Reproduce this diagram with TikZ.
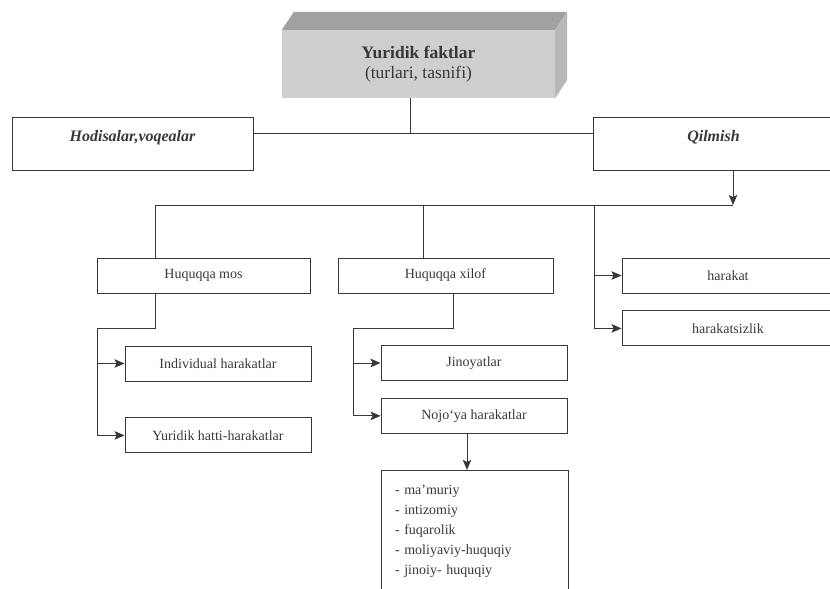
\documentclass[tikz,border=0pt]{standalone}
\usepackage{fontspec}
\setmainfont{Liberation Serif}
\usetikzlibrary{arrows.meta, positioning}
\definecolor{inkgray}{gray}{0.22}
\definecolor{facefront}{gray}{0.81}
\definecolor{facetop}{gray}{0.63}
\definecolor{faceside}{gray}{0.72}

\begin{document}
\begin{tikzpicture}[x=1pt, y=-1pt,
  every node/.style={font=\fontsize{14}{17}\selectfont, text=inkgray},
  box/.style={draw=inkgray, line width=0.9pt, minimum height=35pt, inner sep=0pt},
  head/.style={font=\fontsize{16}{18}\selectfont\bfseries\itshape, minimum width=241pt, minimum height=53pt, text height=24pt, text depth=29pt},
  link/.style={draw=inkgray, line width=1pt},
  arr/.style={link, -{Stealth[length=10pt,width=8.5pt,inset=2pt]}}]
\useasboundingbox (0,0) rectangle (830,589);
% Top block
\node[fill=facefront, minimum width=273pt, minimum height=68pt, inner sep=0pt, align=center, font=\fontsize{17.5}{20}\selectfont] (Top) at (418.5,64) {\textbf{Yuridik faktlar}\\(turlari, tasnifi)};
\fill[facetop] (Top.north west) -- ++(12,-18) -- ([shift={(12,-18)}]Top.north east) -- (Top.north east) -- cycle;
\fill[faceside] (Top.north east) -- ++(12,-18) -- ++(0,68) -- (Top.south east) -- cycle;
% First level
\node[box, head] (Hod) at (132.5,143.5) {Hodisalar,voqealar};
\node[box, head] (Qil) at (713.5,143.5) {Qilmish};
% Second level
\node[box, minimum width=213pt] (Mos) at (203.5,275.5) {Huquqqa mos};
\node[box, minimum width=215pt] (Xil) at (445.5,275.5) {Huquqqa xilof};
\node[box, minimum width=212pt] (Har) at (728,275.5) {harakat};
\node[box, minimum width=212pt, below=17pt of Har] (Hsz) {harakatsizlik};
% Third level
\node[box, minimum width=186pt] (Ind) at (218,363.5) {Individual harakatlar};
\node[box, minimum width=186pt, below=36pt of Ind] (Yur) {Yuridik hatti-harakatlar};
\node[box, minimum width=186pt] (Jin) at (474,363) {Jinoyatlar};
\node[box, minimum width=186pt, below=17pt of Jin] (Noj) {Nojo‘ya harakatlar};
\node[box, below=36pt of Noj.south west, anchor=north west, minimum width=187pt, text width=159pt, inner xsep=14pt, inner ysep=15pt, align=left, font=\fontsize{14}{20}\selectfont] (List) {- ma’muriy\\- intizomiy\\- fuqarolik\\- moliyaviy-huquqiy\\- jinoiy- huquqiy};
% Joints
\coordinate (J1) at (410,133);
\coordinate (J2) at (733,205);
\coordinate (MosL) at (97,328);
\coordinate (XilL) at (353,328);
% Lines
\draw[link] (J1 |- Top.south) -- (J1);
\draw[link] (Hod.east |- J1) -- (Qil.west |- J1);
\draw[arr] (Qil.south -| J2) -- (J2);
\draw[link] (Mos.north -| 155,0) |- (J2);
\draw[link] (Xil.north -| 423,0) -- (423,0 |- J2);
\draw[arr] (594,0 |- J2) |- (Hsz);
\draw[arr] (594,0 |- Har) -- (Har);
% Subtrees
\draw[arr] (Mos.south -| 155,0) -- (155,0 |- MosL) -- (MosL) |- (Yur);
\draw[arr] (MosL |- Ind) -- (Ind);
\draw[arr] (Xil.south -| 453,0) -- (453,0 |- XilL) -- (XilL) |- (Noj);
\draw[arr] (XilL |- Jin) -- (Jin);
\draw[arr] (Noj.south -| 467,0) -- (List.north -| 467,0);
\end{tikzpicture}
\end{document}
